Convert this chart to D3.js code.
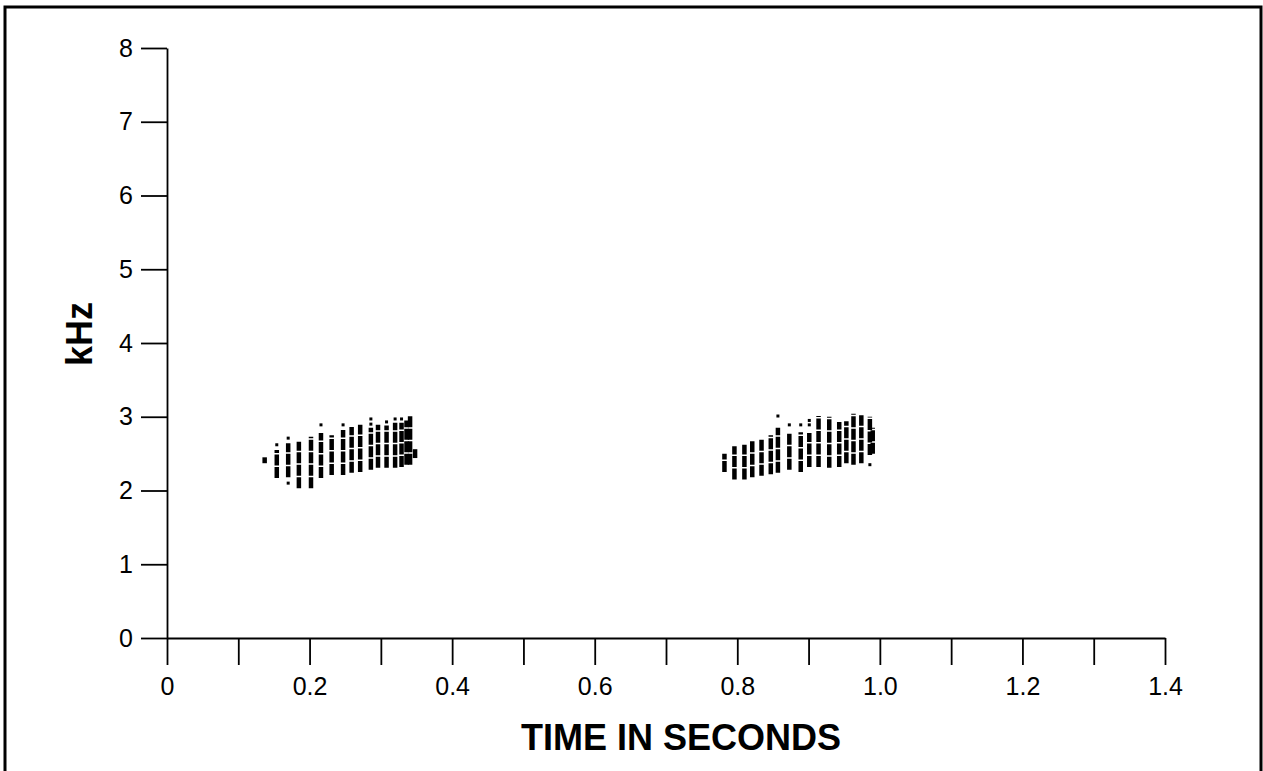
<!DOCTYPE html>
<html>
<head>
<meta charset="utf-8">
<script src="https://cdn.jsdelivr.net/npm/d3@7"></script>
<style>
	body { margin: 0; background: #fff; }
	svg { display: block; font-family: "Liberation Sans", Arial, sans-serif; }
</style>
</head>
<body>
<div id="chart"></div>
<script>
// tick values
const xTicks = [0, 0.1, 0.2, 0.3, 0.4, 0.5, 0.6, 0.7, 0.8, 0.9, 1.0, 1.1, 1.2, 1.3, 1.4];
const xLabels = ["0", "", "0.2", "", "0.4", "", "0.6", "", "0.8", "", "1.0", "", "1.2", "", "1.4"];
const yTicks = [0, 1, 2, 3, 4, 5, 6, 7, 8];

// pulses: [time (s), low kHz, high kHz]
const syllable1 = [
	[0.137, 2.37, 2.45],
	[0.154, 2.17, 2.55],
	[0.170, 2.18, 2.64],
	[0.185, 2.03, 2.66],
	[0.202, 2.03, 2.73],
	[0.216, 2.17, 2.78],
	[0.231, 2.21, 2.75],
	[0.247, 2.21, 2.82],
	[0.259, 2.24, 2.86],
	[0.271, 2.25, 2.89],
	[0.286, 2.28, 2.85],
	[0.296, 2.31, 2.89],
	[0.308, 2.31, 2.88],
	[0.320, 2.31, 2.92],
	[0.329, 2.32, 2.92],
	[0.336, 2.35, 2.95],
	[0.341, 2.35, 3.02],
	[0.348, 2.44, 2.56],
];
// single dots: [time (s), kHz]
const syllable1Dots = [
	[0.154, 2.62],
	[0.170, 2.71],
	[0.170, 2.10],
	[0.216, 2.89],
	[0.247, 2.89],
	[0.286, 2.97],
	[0.286, 2.90],
	[0.308, 2.93],
	[0.320, 2.97],
	[0.329, 2.97],
];

const syllable2 = [
	[0.782, 2.25, 2.50],
	[0.796, 2.15, 2.60],
	[0.810, 2.15, 2.62],
	[0.821, 2.18, 2.68],
	[0.834, 2.20, 2.70],
	[0.847, 2.22, 2.75],
	[0.857, 2.24, 2.85],
	[0.873, 2.28, 2.79],
	[0.889, 2.25, 2.79],
	[0.901, 2.32, 2.78],
	[0.914, 2.32, 3.01],
	[0.929, 2.31, 3.00],
	[0.943, 2.32, 2.93],
	[0.953, 2.37, 2.94],
	[0.963, 2.35, 3.04],
	[0.974, 2.37, 3.02],
	[0.986, 2.48, 3.00],
	[0.990, 2.50, 2.85],
];
const syllable2Dots = [
	[0.857, 3.01],
	[0.873, 2.89],
	[0.889, 2.89],
	[0.901, 2.95],
	[0.901, 2.89],
	[0.986, 2.35],
];

const width = 1263;
const height = 771;

const svg = d3
	.select("#chart")
	.append("svg")
	.attr("width", width)
	.attr("height", height);

// outer frame (bottom edge runs off the page)
svg.append("rect")
	.attr("x", 5)
	.attr("y", 7)
	.attr("width", 1256)
	.attr("height", 820)
	.attr("fill", "none")
	.attr("stroke", "#000")
	.attr("stroke-width", 3);

const x = d3.scaleLinear().domain([0, 1.4]).range([167, 1165]);
const y = d3.scaleLinear().domain([0, 8]).range([638, 48]);

// xAxis
const xAxis = d3
	.axisBottom(x)
	.tickValues(xTicks)
	.tickSize(27)
	.tickSizeOuter(0)
	.tickPadding(12)
	.tickFormat((d, i) => xLabels[i]);

// yAxis
const yAxis = d3
	.axisLeft(y)
	.tickValues(yTicks)
	.tickSize(26)
	.tickSizeOuter(0)
	.tickPadding(8)
	.tickFormat((d) => d);

svg.append("g")
	.attr("class", "x-axis")
	.attr("transform", `translate(0, ${y(0)})`)
	.call(xAxis);

svg.append("g")
	.attr("class", "y-axis")
	.attr("transform", `translate(${x(0)}, 0)`)
	.call(yAxis);

svg.selectAll(".x-axis, .y-axis")
	.selectAll("path, line")
	.attr("stroke", "#000")
	.attr("stroke-width", 1.8);

svg.selectAll(".x-axis text, .y-axis text")
	.attr("font-family", "Liberation Sans, Arial, sans-serif")
	.attr("font-size", "25px")
	.attr("fill", "#000");

// axis titles
svg.append("text")
	.attr("x", 681)
	.attr("y", 750)
	.attr("text-anchor", "middle")
	.attr("font-size", "36px")
	.attr("font-weight", "bold")
	.text("TIME IN SECONDS");

svg.append("text")
	.attr("transform", "translate(92, 334) rotate(-90)")
	.attr("text-anchor", "middle")
	.attr("font-size", "36px")
	.attr("font-weight", "bold")
	.text("kHz");

// spectrogram pulses
const marks = svg.append("g").attr("class", "spectro");

[syllable1, syllable2].forEach((syl) => {
	marks.append("g")
		.selectAll("line")
		.data(syl)
		.enter()
		.append("line")
		.attr("x1", (d) => x(d[0]))
		.attr("x2", (d) => x(d[0]))
		.attr("y1", (d) => y(d[1]))
		.attr("y2", (d) => y(d[2]))
		.attr("stroke", "#000")
		.attr("stroke-width", 4.5)
		.attr("stroke-dasharray", "11 1.5");
});

[syllable1Dots, syllable2Dots].forEach((dots) => {
	marks.append("g")
		.selectAll("rect")
		.data(dots)
		.enter()
		.append("rect")
		.attr("x", (d) => x(d[0]) - 1.5)
		.attr("y", (d) => y(d[1]) - 1.5)
		.attr("width", 3)
		.attr("height", 3)
		.attr("fill", "#000");
});
</script>
</body>
</html>
